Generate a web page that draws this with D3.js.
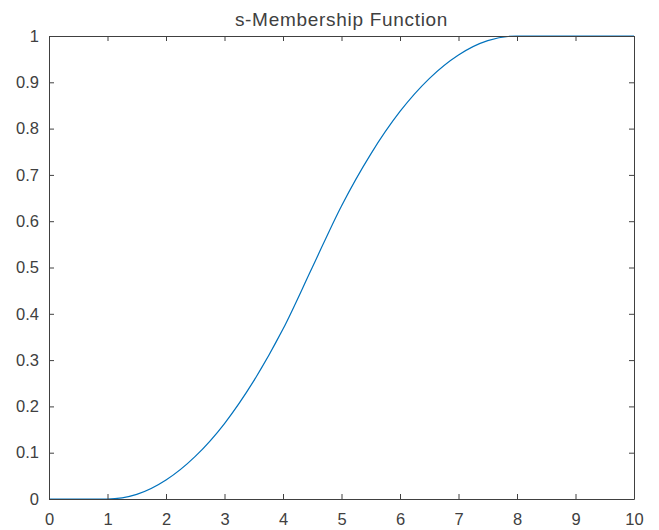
<!DOCTYPE html>
<html>
<head>
<meta charset="utf-8">
<script src="https://cdn.jsdelivr.net/npm/d3@7"></script>
<style>
body { margin: 0; background: #fff; }
text { font-family: "Liberation Sans", Arial, sans-serif; }
</style>
</head>
<body>
<div id="chart"></div>
<script>
// values
var xVals = [0, 0.5, 1, 1.5, 2, 2.5, 3, 3.5, 4, 4.5, 5, 5.5, 6, 6.5, 7, 7.5, 8, 8.5, 9, 9.5, 10];
var yVals = [0, 0, 0, 0.010, 0.041, 0.092, 0.163, 0.255, 0.367, 0.5, 0.633, 0.745, 0.837, 0.908, 0.959, 0.990, 1, 1, 1, 1, 1];
var xTicks = [0, 1, 2, 3, 4, 5, 6, 7, 8, 9, 10];
var yTicks = [0, 0.1, 0.2, 0.3, 0.4, 0.5, 0.6, 0.7, 0.8, 0.9, 1];
var title = "s-Membership Function";

var margin = {top: 36, right: 25, bottom: 31, left: 49},
    width = 659 - margin.left - margin.right,
    height = 530 - margin.top - margin.bottom;

var svg = d3.select("#chart")
  .append("svg")
  .attr("width", 659)
  .attr("height", 530)
  .append("g")
  .attr("transform", "translate(" + margin.left + "," + margin.top + ")");

var x = d3.scaleLinear().domain([0, 10]).range([0, width]);
var y = d3.scaleLinear().domain([0, 1]).range([height, 0]);

var data = xVals.map(function(d, i) { return {x: d, y: yVals[i]}; });

// curve
svg.append("path")
  .datum(data)
  .attr("fill", "none")
  .attr("stroke", "#0072BD")
  .attr("stroke-width", 1.2)
  .attr("d", d3.line()
    .x(function(d) { return x(d.x); })
    .y(function(d) { return y(d.y); })
    .curve(d3.curveMonotoneX));

function styleAxis(g) {
  g.select(".domain").attr("stroke", "#404040");
  g.selectAll(".tick line").attr("stroke", "#404040");
  g.selectAll(".tick text").attr("fill", "#404040").style("font-size", "16.5px");
}

// bottom axis
svg.append("g")
  .attr("transform", "translate(0," + height + ")")
  .call(d3.axisBottom(x).tickValues(xTicks).tickSize(-5).tickSizeOuter(0).tickPadding(14)
    .tickFormat(d3.format("d")))
  .call(styleAxis);

// left axis
svg.append("g")
  .call(d3.axisLeft(y).tickValues(yTicks).tickSize(-5).tickSizeOuter(0).tickPadding(10)
    .tickFormat(function(d) { return d === 0 || d === 1 ? d3.format("d")(d) : d3.format(".1f")(d); }))
  .call(styleAxis);

// top and right box lines with ticks
svg.append("g")
  .call(d3.axisTop(x).tickValues(xTicks).tickSize(-5).tickSizeOuter(0).tickFormat(""))
  .call(styleAxis);
svg.append("g")
  .attr("transform", "translate(" + width + ",0)")
  .call(d3.axisRight(y).tickValues(yTicks).tickSize(-5).tickSizeOuter(0).tickFormat(""))
  .call(styleAxis);

// title
svg.append("text")
  .attr("x", width / 2)
  .attr("y", -10)
  .attr("text-anchor", "middle")
  .style("font-size", "19px")
  .style("letter-spacing", "0.7px")
  .attr("fill", "#404040")
  .text(title);
</script>
</body>
</html>
